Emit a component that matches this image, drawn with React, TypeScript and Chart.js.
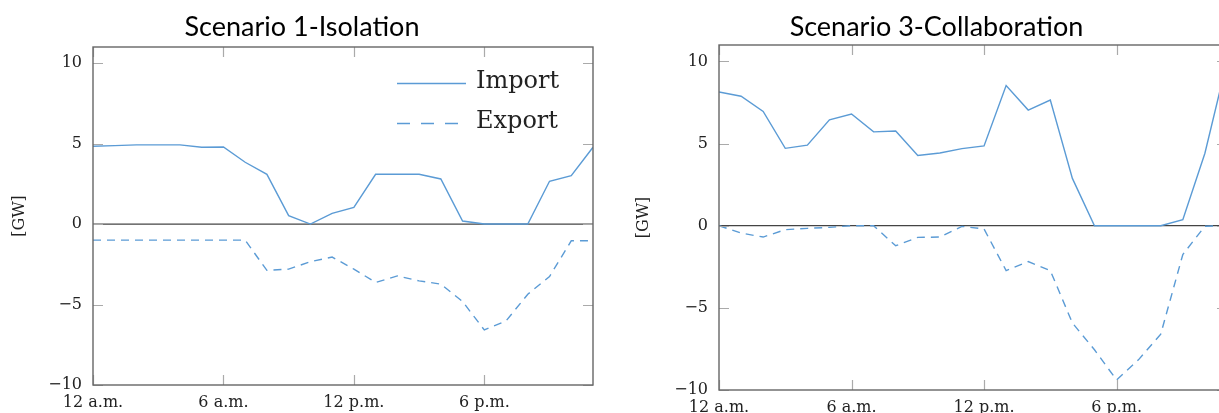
import React, { useEffect, useRef } from 'react';
import { Chart, registerables } from 'chart.js';

Chart.register(...registerables);

// ---------- data ----------
const hours = [0, 1, 2, 3, 4, 5, 6, 7, 8, 9, 10, 11, 12, 13, 14, 15, 16, 17, 18, 19, 20, 21, 22, 23];
const xTickHours = [0, 6, 12, 18];
const xTickLabels = ['12 a.m.', '6 a.m.', '12 p.m.', '6 p.m.'];
const yTicks = [-10, -5, 0, 5, 10];
const seriesNames = ['Import', 'Export'];
const titles = ['Scenario 1-Isolation', 'Scenario 3-Collaboration'];
const yAxisTitle = '[GW]';

const s1Import = [4.83, 4.87, 4.92, 4.92, 4.92, 4.77, 4.79, 3.84, 3.09, 0.52, 0, 0.66, 1.04, 3.09, 3.09, 3.09, 2.8, 0.19, 0, 0, 0, 2.66, 3.01, 4.77];
const s1Export = [-1, -1, -1, -1, -1, -1, -1, -1, -2.88, -2.8, -2.34, -2.05, -2.8, -3.63, -3.22, -3.53, -3.73, -4.81, -6.58, -6.02, -4.36, -3.26, -1.04, -1.04];
const s3Import = [8.14, 7.88, 6.96, 4.71, 4.9, 6.45, 6.8, 5.71, 5.76, 4.27, 4.43, 4.69, 4.86, 8.53, 7.04, 7.65, 2.88, 0, 0, 0, 0, 0.37, 4.41, 10.0];
const s3Export = [0, -0.45, -0.69, -0.24, -0.16, -0.1, 0, 0, -1.22, -0.71, -0.69, -0.04, -0.2, -2.73, -2.18, -2.73, -5.92, -7.55, -9.39, -8.15, -6.6, -1.75, -0.03, 0];

// ---------- styles ----------
const LINE_COLOR = '#5b9bd5';
const SERIF = 'DejaVu Serif';

type Panel = {
  title: string;
  titleX: number;
  canvasLeft: number;
  canvasWidth: number;
  areaLeft: number;
  areaRight: number;
  areaTop: number;
  areaBottom: number;
  yTitleOffset: number;
  legend: boolean;
  imp: number[];
  exp: number[];
};

const decorPlugin = {
  id: 'decor',
  beforeDatasetsDraw(chart: any) {
    const { ctx, chartArea: a, scales } = chart;
    const y0 = scales.y.getPixelForValue(0);
    ctx.save();
    ctx.strokeStyle = '#444';
    ctx.lineWidth = 1.3;
    ctx.beginPath();
    ctx.moveTo(a.left, y0);
    ctx.lineTo(a.right, y0);
    ctx.stroke();
    ctx.restore();
  },
  afterDatasetsDraw(chart: any, _args: any, opts: any) {
    const { ctx, chartArea: a, scales } = chart;
    const TL = 10;
    ctx.save();
    // inward tick marks
    ctx.strokeStyle = '#aaa';
    ctx.lineWidth = 1.2;
    ctx.beginPath();
    for (const v of yTicks) {
      const py = Math.round(scales.y.getPixelForValue(v)) + 0.5;
      ctx.moveTo(a.left, py);
      ctx.lineTo(a.left + TL, py);
      ctx.moveTo(a.right, py);
      ctx.lineTo(a.right - TL, py);
    }
    for (const h of xTickHours) {
      const px = Math.round(scales.x.getPixelForValue(h)) + 0.5;
      ctx.moveTo(px, a.top);
      ctx.lineTo(px, a.top + TL);
      ctx.moveTo(px, a.bottom);
      ctx.lineTo(px, a.bottom - TL);
    }
    ctx.stroke();
    // frame
    ctx.strokeStyle = '#666';
    ctx.lineWidth = 1.4;
    ctx.strokeRect(a.left, a.top, a.right - a.left, a.bottom - a.top);
    // title
    ctx.fillStyle = '#000';
    ctx.font = '27px Lato';
    ctx.textAlign = 'center';
    ctx.textBaseline = 'alphabetic';
    ctx.fillText(opts.title, opts.titleX, 36);
    // legend
    if (opts.legend) {
      const lx0 = 397 - opts.canvasLeft;
      const lx1 = 466 - opts.canvasLeft;
      ctx.strokeStyle = LINE_COLOR;
      ctx.lineWidth = 1.5;
      ctx.beginPath();
      ctx.moveTo(lx0, 83.5);
      ctx.lineTo(lx1, 83.5);
      ctx.stroke();
      ctx.setLineDash([13, 11]);
      ctx.beginPath();
      ctx.moveTo(lx0, 123.5);
      ctx.lineTo(lx1, 123.5);
      ctx.stroke();
      ctx.setLineDash([]);
      ctx.fillStyle = '#222';
      ctx.font = '24px "' + SERIF + '"';
      ctx.textAlign = 'left';
      ctx.fillText(seriesNames[0], 476 - opts.canvasLeft, 88);
      ctx.fillText(seriesNames[1], 476 - opts.canvasLeft, 127.5);
    }
    ctx.restore();
  },
};

function makeConfig(p: Panel): any {
  const xAxisHeight = 413 - p.areaBottom;
  return {
    type: 'line',
    data: {
      labels: hours,
      datasets: [
        {
          label: seriesNames[0],
          data: hours.map((h, i) => ({ x: h, y: p.imp[i] })),
          borderColor: LINE_COLOR,
          borderWidth: 1.4,
          pointRadius: 0,
          tension: 0,
          fill: false,
        },
        {
          label: seriesNames[1],
          data: hours.map((h, i) => ({ x: h, y: p.exp[i] })),
          borderColor: LINE_COLOR,
          borderWidth: 1.4,
          borderDash: [8, 6],
          pointRadius: 0,
          tension: 0,
          fill: false,
        },
      ],
    },
    options: {
      responsive: false,
      animation: false,
      events: [],
      layout: {
        padding: { left: 0, top: p.areaTop, right: p.canvasWidth - p.areaRight, bottom: 0 },
      },
      plugins: {
        legend: { display: false },
        title: { display: false },
        tooltip: { enabled: false },
        decor: {
          title: p.title,
          titleX: p.titleX,
          legend: p.legend,
          canvasLeft: p.canvasLeft,
        },
      },
      scales: {
        x: {
          type: 'linear',
          min: 0,
          max: 23,
          grid: { display: false, drawTicks: false },
          border: { display: false },
          afterFit: (s: any) => {
            s.height = xAxisHeight;
          },
          afterBuildTicks: (s: any) => {
            s.ticks = xTickHours.map((v) => ({ value: v }));
          },
          ticks: {
            autoSkip: false,
            maxRotation: 0,
            padding: 8,
            color: '#222',
            font: { family: SERIF, size: 16 },
            callback: (v: number) => {
              const i = xTickHours.indexOf(v);
              return i >= 0 ? xTickLabels[i] : '';
            },
          },
        },
        y: {
          type: 'linear',
          min: -10,
          max: 11,
          grid: { display: false, drawTicks: false },
          border: { display: false },
          afterFit: (s: any) => {
            s.width = p.areaLeft;
          },
          afterBuildTicks: (s: any) => {
            s.ticks = yTicks.map((v) => ({ value: v }));
          },
          ticks: {
            padding: 11,
            color: '#222',
            font: { family: SERIF, size: 16 },
            callback: (v: number) => String(v).replace('-', '\u2212'),
          },
          title: {
            display: true,
            text: yAxisTitle,
            color: '#222',
            font: { family: SERIF, size: 16 },
            padding: { top: p.yTitleOffset, bottom: 0 },
          },
        },
      },
    },
    plugins: [decorPlugin],
  };
}

const panels: Panel[] = [
  {
    title: titles[0],
    titleX: 302,
    canvasLeft: 0,
    canvasWidth: 610,
    areaLeft: 93,
    areaRight: 593,
    areaTop: 47,
    areaBottom: 385,
    yTitleOffset: 10.5,
    legend: true,
    imp: s1Import,
    exp: s1Export,
  },
  {
    title: titles[1],
    titleX: 936.5 - 610,
    canvasLeft: 610,
    canvasWidth: 640,
    areaLeft: 109,
    areaRight: 617,
    areaTop: 45,
    areaBottom: 390,
    yTitleOffset: 24.5,
    legend: false,
    imp: s3Import,
    exp: s3Export,
  },
];

function ChartPanel({ panel }: { panel: Panel }) {
  const ref = useRef<HTMLCanvasElement>(null);
  useEffect(() => {
    const chart = new Chart(ref.current as HTMLCanvasElement, makeConfig(panel));
    return () => chart.destroy();
  }, [panel]);
  return (
    <canvas
      ref={ref}
      width={panel.canvasWidth}
      height={413}
      style={{ position: 'absolute', left: panel.canvasLeft, top: 0, width: panel.canvasWidth, height: 413 }}
    />
  );
}

export default function App() {
  return (
    <div
      style={{
        position: 'absolute',
        left: 0,
        top: 0,
        width: 1219,
        height: 413,
        overflow: 'hidden',
        background: '#fff',
      }}
    >
      {panels.map((p, i) => (
        <ChartPanel key={i} panel={p} />
      ))}
    </div>
  );
}
